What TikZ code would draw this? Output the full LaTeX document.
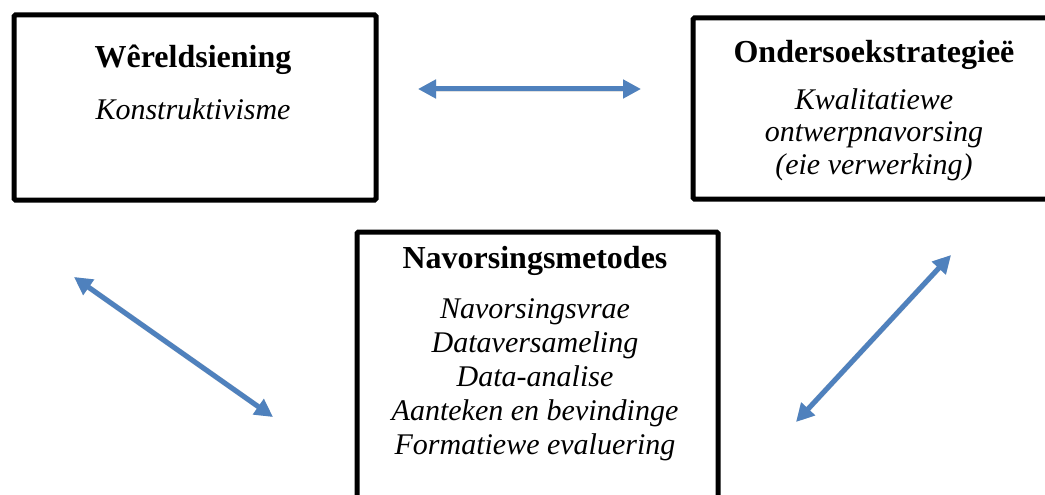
\documentclass[tikz,border=0pt]{standalone}
\usepackage{fontspec}
\setmainfont{Liberation Serif}
\usetikzlibrary{arrows.meta}
\definecolor{arrowblue}{HTML}{4F81BD}
\tikzset{
  framebox/.style={draw=black, line width=5pt, rounded corners=1.5pt, inner sep=0pt, anchor=north west},
  titletext/.style={font=\fontsize{32}{34}\selectfont\bfseries, anchor=base, inner sep=0pt},
  itemtext/.style={font=\fontsize{30}{34}\selectfont\itshape, anchor=base, inner sep=0pt},
  linkarrow/.style={draw=arrowblue, line width=5pt, {Triangle[length=18pt,width=18pt]}-{Triangle[length=18pt,width=18pt]}},
  linkshadow/.style={draw=black!12, line width=5.5pt, {Triangle[length=18pt,width=18pt]}-{Triangle[length=18pt,width=18pt]}}
}
\begin{document}
\begin{tikzpicture}[x=1pt,y=-1pt]
\useasboundingbox (0,0) rectangle (1045,495);
\clip (0,0) rectangle (1045,495);
% boxes
\node[framebox, minimum width=362pt, minimum height=185pt] (wb) at (11.5,12.5) {};
\node[framebox, minimum width=370pt, minimum height=181pt] (ob) at (690.5,15.5) {};
\node[framebox, minimum width=361pt, minimum height=300pt] (nb) at (354.5,229.5) {};
% texts
\node[titletext] (wt) at (193,68) {Wêreldsiening};
\node[itemtext] (wi) at (193,119) {Konstruktivisme};
\node[titletext] (ot) at (874,63) {Ondersoekstrategieë};
\node[itemtext] (o1) at (874,110) {Kwalitatiewe};
\node[itemtext] (o2) at (874,142) {ontwerpnavorsing};
\node[itemtext] (o3) at (874,174) {(eie verwerking)};
\node[titletext] (nt) at (535,268) {Navorsingsmetodes};
\node[itemtext] (n1) at (535,318) {Navorsingsvrae};
\node[itemtext] (n2) at (535,352) {Dataversameling};
\node[itemtext] (n3) at (535,386) {Data-analise};
\node[itemtext] (n4) at (535,420) {Aanteken en bevindinge};
\node[itemtext] (n5) at (535,454) {Formatiewe evaluering};
% arrow end points
\coordinate (h1) at (418,89);
\coordinate (h2) at (641,89);
\coordinate (l1) at (74,277);
\coordinate (l2) at (273,417);
\coordinate (r1) at (796,422);
\coordinate (r2) at (951,255);
% shadows
\begin{scope}[shift={(2,3)}]
\draw[linkshadow] (h1) -- (h2);
\draw[linkshadow] (l1) -- (l2);
\draw[linkshadow] (r1) -- (r2);
\end{scope}
% arrows
\draw[linkarrow] (h1) -- (h2);
\draw[linkarrow] (l1) -- (l2);
\draw[linkarrow] (r1) -- (r2);
\end{tikzpicture}
\end{document}
